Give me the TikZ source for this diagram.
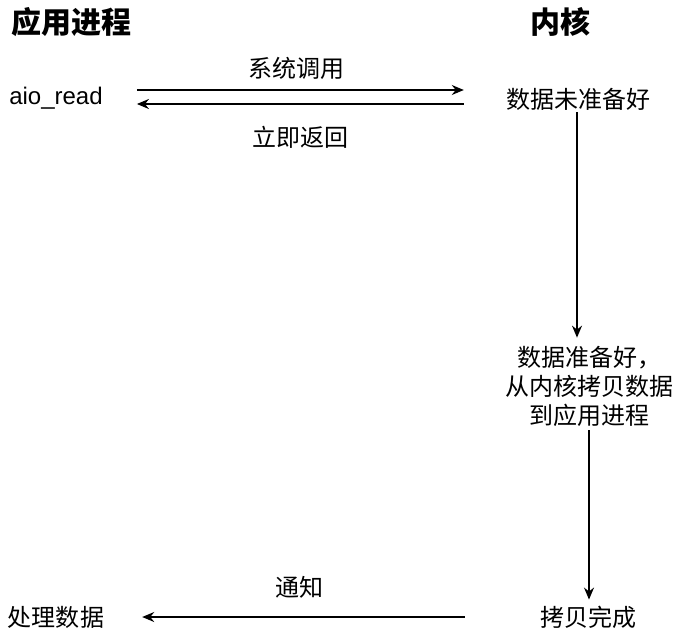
\documentclass[tikz,border=0pt]{standalone}
\usepackage{fontspec}
\setmainfont{Noto Sans CJK SC}
\newfontfamily\latin{Liberation Sans}
\usetikzlibrary{arrows.meta,positioning,calc}

\begin{document}
\begin{tikzpicture}[x=1pt,y=-1pt,
    title/.style={inner sep=0pt,font=\fontsize{30}{36}\selectfont\bfseries},
    lbl/.style={inner sep=0pt,font=\fontsize{24}{29}\selectfont},
    arr/.style={line width=1.5pt,-{Stealth[length=12pt,width=10pt]}}]
   \useasboundingbox (0,0) rectangle (682,632);
   % column heads
   \node[title] (app) at (71,22) {应用进程};
   \node[title] (kern) at (560,22) {内核};
   % user process side
   \node[lbl,font=\fontsize{24}{29}\selectfont\latin] (aio) at (56,98) {aio\_read};
   \node[lbl] (proc) at (56,617) {处理数据};
   % kernel side
   \node[lbl] (notready) at (578,99) {数据未准备好};
   \node[lbl,align=center] (ready) at (589,386) {数据准备好，\\从内核拷贝数据\\到应用进程};
   \node[lbl] (done) at (588,617) {拷贝完成};

   \draw[arr,shorten <=34pt,shorten >=42pt] ([yshift=8pt]aio.east) -- ([yshift=8pt]aio.east -| notready.west)
        node[lbl,midway,yshift=22pt,xshift=-8pt] (call) {系统调用};
   \draw[arr,shorten <=42pt,shorten >=34pt] ([yshift=-6pt]aio.east -| notready.west) -- ([yshift=-6pt]aio.east)
        node[lbl,midway,yshift=-33pt,xshift=-4pt] (ret) {立即返回};
   \draw[arr,shorten <=2pt,shorten >=8pt] ([xshift=-1pt]notready.south) -- ([xshift=-1pt]notready.south |- ready.north);
   \draw[arr,shorten <=4pt,shorten >=6pt] (ready.south) -- (ready.south |- done.north);
   \draw[arr,shorten <=75pt,shorten >=38pt] (done.west) -- (proc.east)
        node[lbl,midway,yshift=30pt,xshift=-23pt] (notify) {通知};
\end{tikzpicture}
\end{document}
